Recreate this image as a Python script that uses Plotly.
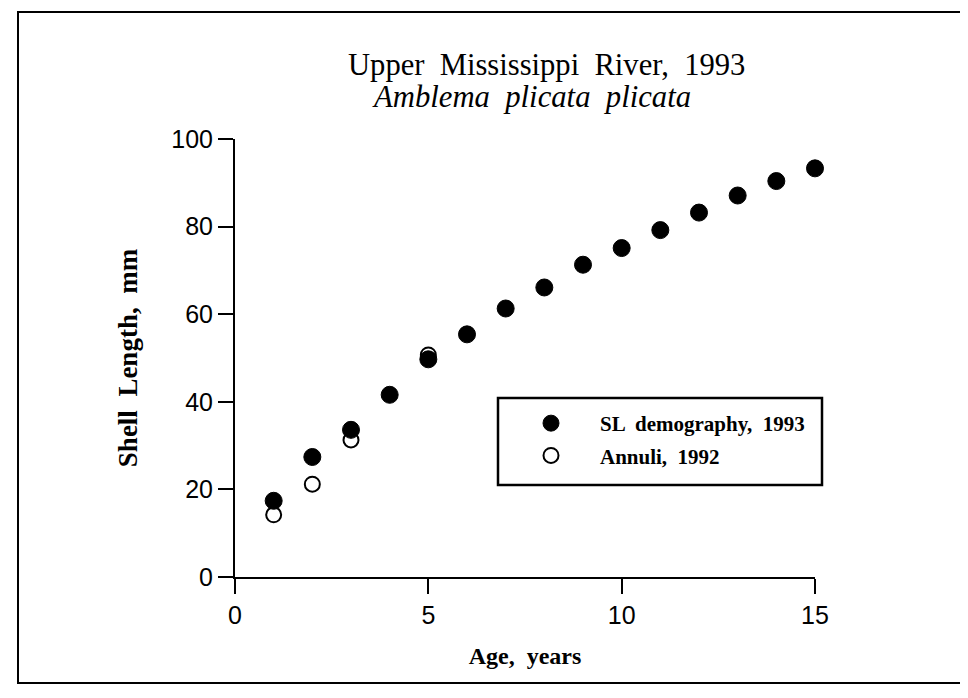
import plotly.graph_objects as go

# Data
age_demo = [1, 2, 3, 4, 5, 6, 7, 8, 9, 10, 11, 12, 13, 14, 15]
sl_demo = [17.4, 27.4, 33.6, 41.6, 49.7, 55.4, 61.3, 66.1, 71.3, 75.1, 79.2, 83.2, 87.1, 90.4, 93.3]
age_annuli = [1, 2, 3, 5]
sl_annuli = [14.2, 21.2, 31.3, 50.7]

x_ticks = [0, 5, 10, 15]
y_ticks = [0, 20, 40, 60, 80, 100]

OFF = 8  # page body margin
W, H = 960, 690
L, T = 227, 131
pw, ph = 580, 438
R, B = W - L - pw, H - T - ph

def px(xp):
    return (xp - OFF - L) / pw

def py(yp):
    return (T + ph - (yp - OFF)) / ph

serif = "Liberation Serif, Times New Roman, serif"
sans = "Liberation Sans, Arial, Helvetica, sans-serif"

fig = go.Figure()
fig.add_trace(go.Scatter(
    x=age_demo, y=sl_demo, mode="markers", name="<b>SL  demography,  1993</b>",
    legendgroup="a",
    marker=dict(symbol="circle", size=17, color="black", line=dict(color="black", width=1)),
    cliponaxis=False,
))
fig.add_trace(go.Scatter(
    x=age_annuli, y=sl_annuli, mode="markers", name="<b>Annuli,  1992</b>",
    legendgroup="b",
    marker=dict(symbol="circle-open", size=15, color="black", line=dict(color="black", width=2)),
    cliponaxis=False,
))

fig.update_layout(
    width=W, height=H,
    margin=dict(l=L, r=R, t=T, b=B, pad=0, autoexpand=False),
    paper_bgcolor="white", plot_bgcolor="white",
    showlegend=True,
    legend=dict(
        x=px(502), y=py(403), xanchor="left", yanchor="top",
        borderwidth=0, bgcolor="rgba(0,0,0,0)",
        font=dict(family=serif, size=21, color="black"),
        itemsizing="trace", tracegroupgap=2, itemwidth=88,
    ),
    xaxis=dict(
        range=[0, 15], tickvals=x_ticks, showgrid=False, zeroline=False,
        showline=True, linecolor="black", linewidth=2,
        ticks="outside", ticklen=15, tickwidth=2, tickcolor="black",
        tickfont=dict(family=sans, size=25, color="black"),
        title=dict(text="<b>Age,  years</b>", font=dict(family=serif, size=24, color="black"), standoff=19),
    ),
    yaxis=dict(
        range=[0, 100], tickvals=y_ticks, showgrid=False, zeroline=False,
        showline=True, linecolor="black", linewidth=2,
        ticks="outside", ticklen=15, tickwidth=2, tickcolor="black",
        tickfont=dict(family=sans, size=25, color="black"),
        title=dict(text="<b>Shell  Length,  mm</b>", font=dict(family=serif, size=27, color="black"), standoff=26),
    ),
    annotations=[
        dict(text="Upper  Mississippi  River,  1993", x=px(546), y=py(65), xref="paper", yref="paper",
             showarrow=False, xanchor="center", yanchor="middle",
             font=dict(family=serif, size=30.6, color="black")),
        dict(text="<i>Amblema  plicata  plicata</i>", x=px(531), y=py(97), xref="paper", yref="paper",
             showarrow=False, xanchor="center", yanchor="middle",
             font=dict(family=serif, size=30.7, color="black")),
    ],
    shapes=[
        dict(type="rect", xref="paper", yref="paper",
             x0=px(18), x1=px(964), y0=py(683), y1=py(12),
             line=dict(color="black", width=2), fillcolor="rgba(0,0,0,0)", layer="below"),
        dict(type="rect", xref="paper", yref="paper",
             x0=px(498), x1=px(822), y0=py(485), y1=py(398),
             line=dict(color="black", width=2.5), fillcolor="white", layer="above"),
    ],
)

fig.write_html("out.html")
